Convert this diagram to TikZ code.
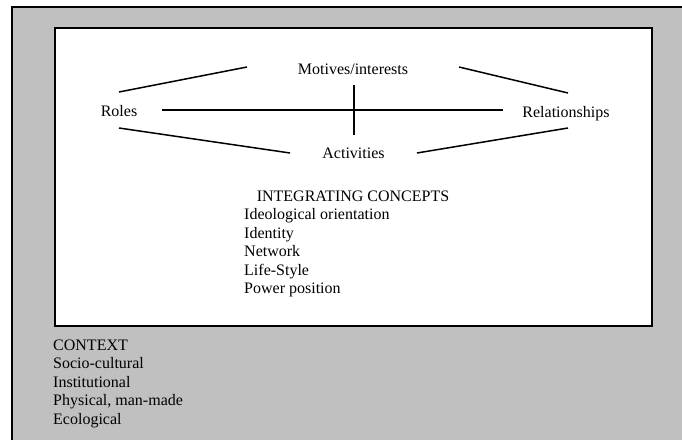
\documentclass[tikz,border=0pt]{standalone}
\usepackage{fontspec}
\setmainfont{Liberation Serif}
\definecolor{bggray}{RGB}{192,192,192}
\begin{document}
\begin{tikzpicture}[x=1pt,y=-1pt,
  lbl/.style={inner sep=0pt, font=\fontsize{16}{18}\selectfont, anchor=base},
  lbll/.style={lbl, anchor=base west},
  conn/.style={line width=1.5pt}]
\clip (0,0) rectangle (682,439);
\fill[white] (0,0) rectangle (682,439);
\draw[fill=bggray, line width=1.2pt] (12,7) rectangle (720,470);
\draw[fill=white, line width=1.6pt] (55,28) rectangle (652,326);

\node[lbl] (mot) at (353,74.5) {Motives/interests};
\node[lbl] (act) at (353.5,158.5) {Activities};
\node[lbl] (rol) at (119,116) {Roles};
\node[lbl] (rel) at (566,117) {Relationships};

\coordinate (r1) at (119,92);
\coordinate (m1) at (247,67);
\coordinate (r2) at (119,128);
\coordinate (a1) at (290,153);
\coordinate (h1) at (162,110);
\coordinate (h2) at (503,110);
\coordinate (v1) at (354,85);
\coordinate (v2) at (354,135);
\coordinate (m2) at (459,67);
\coordinate (e1) at (568,93);
\coordinate (a2) at (417,153);
\coordinate (e2) at (568,128);

\draw[conn] (r1) -- (m1);
\draw[conn] (r2) -- (a1);
\draw[conn] (h1) -- (h2);
\draw[conn] (v1) -- (v2);
\draw[conn] (m2) -- (e1);
\draw[conn] (a2) -- (e2);

\node[lbl] (ic) at (353,201) {INTEGRATING CONCEPTS};
\node[lbll] (ic1) at (244,219) {Ideological orientation};
\node[lbll] (ic2) at (244,238) {Identity};
\node[lbll] (ic3) at (244,256) {Network};
\node[lbll] (ic4) at (244,275) {Life-Style};
\node[lbll] (ic5) at (244,293) {Power position};

\node[lbll] (ctx) at (53,350) {CONTEXT};
\node[lbll] (ctx1) at (53,368.5) {Socio-cultural};
\node[lbll] (ctx2) at (53,387) {Institutional};
\node[lbll] (ctx3) at (53,405.5) {Physical, man-made};
\node[lbll] (ctx4) at (53,424) {Ecological};
\end{tikzpicture}
\end{document}
